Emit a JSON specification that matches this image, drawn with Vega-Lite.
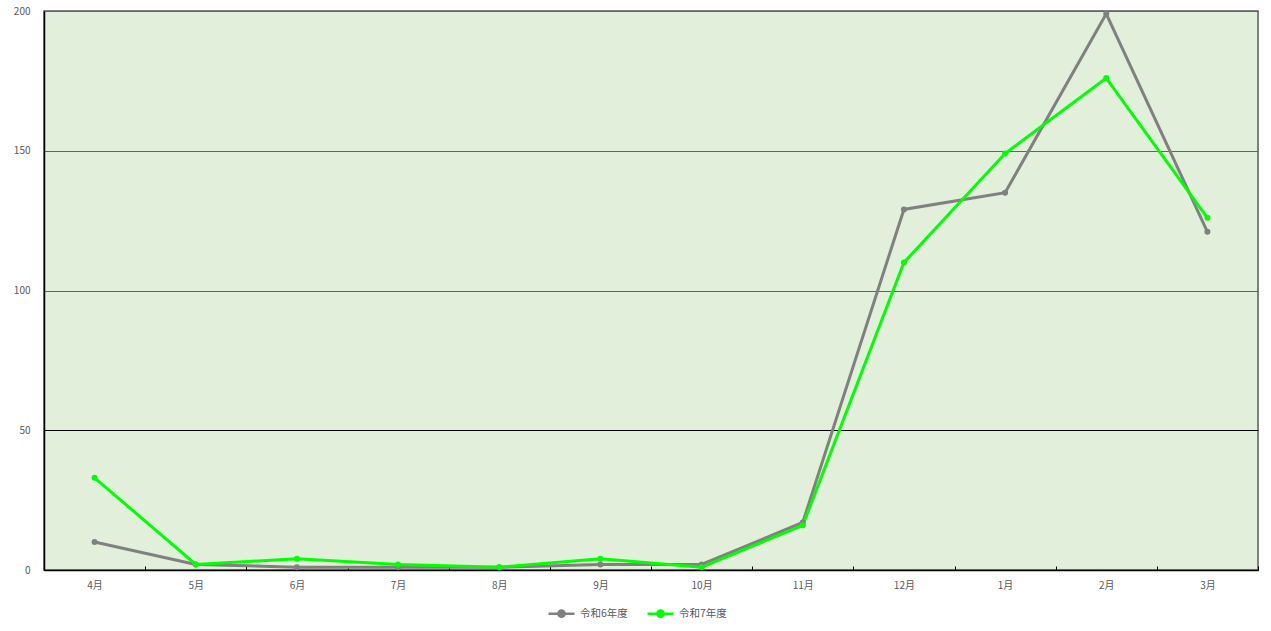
{
  "$schema": "https://vega.github.io/schema/vega-lite/v6.json",
  "width": 1214,
  "height": 559,
  "autosize": {"type": "none"},
  "padding": {"left": 44, "top": 11, "right": 13, "bottom": 61},
  "background": "white",
  "config": {
    "font": "Noto Sans CJK JP",
    "view": {"fill": "#e2efda", "stroke": "#595959", "strokeWidth": 1.5}
  },
  "data": {
    "values": [
      {"month": "4月", "series": "令和6年度", "value": 10},
      {"month": "5月", "series": "令和6年度", "value": 2},
      {"month": "6月", "series": "令和6年度", "value": 1},
      {"month": "7月", "series": "令和6年度", "value": 1},
      {"month": "8月", "series": "令和6年度", "value": 1},
      {"month": "9月", "series": "令和6年度", "value": 2},
      {"month": "10月", "series": "令和6年度", "value": 2},
      {"month": "11月", "series": "令和6年度", "value": 17},
      {"month": "12月", "series": "令和6年度", "value": 129},
      {"month": "1月", "series": "令和6年度", "value": 135},
      {"month": "2月", "series": "令和6年度", "value": 199},
      {"month": "3月", "series": "令和6年度", "value": 121},
      {"month": "4月", "series": "令和7年度", "value": 33},
      {"month": "5月", "series": "令和7年度", "value": 2},
      {"month": "6月", "series": "令和7年度", "value": 4},
      {"month": "7月", "series": "令和7年度", "value": 2},
      {"month": "8月", "series": "令和7年度", "value": 1},
      {"month": "9月", "series": "令和7年度", "value": 4},
      {"month": "10月", "series": "令和7年度", "value": 1},
      {"month": "11月", "series": "令和7年度", "value": 16},
      {"month": "12月", "series": "令和7年度", "value": 110},
      {"month": "1月", "series": "令和7年度", "value": 149},
      {"month": "2月", "series": "令和7年度", "value": 176},
      {"month": "3月", "series": "令和7年度", "value": 126}
    ]
  },
  "mark": {"type": "line", "strokeWidth": 3, "point": {"filled": true, "size": 36}},
  "encoding": {
    "x": {
      "field": "month",
      "type": "ordinal",
      "sort": ["4月","5月","6月","7月","8月","9月","10月","11月","12月","1月","2月","3月"],
      "title": null,
      "scale": {"paddingInner": 0, "paddingOuter": 0},
      "axis": {
        "labelAngle": 0,
        "labelColor": "#595959",
        "labelFontSize": 10,
        "labelPadding": 14,
        "domainColor": "#000000",
        "domainWidth": 1.5,
        "tickColor": "#000000",
        "tickSize": -4,
        "tickBand": "extent",
        "grid": false
      }
    },
    "y": {
      "field": "value",
      "type": "quantitative",
      "title": null,
      "scale": {"domain": [0, 200], "nice": false},
      "axis": {
        "values": [0, 50, 100, 150, 200],
        "labelColor": "#595959",
        "labelFontSize": 10,
        "labelPadding": 14,
        "ticks": false,
        "domainColor": "#000000",
        "domainWidth": 1.5,
        "grid": true,
        "gridColor": {"condition": {"test": "datum.value === 50", "value": "#000000"}, "value": "#5a6a5a"},
        "gridWidth": 1,
        "gridOpacity": 1
      }
    },
    "color": {
      "field": "series",
      "type": "nominal",
      "title": null,
      "scale": {"domain": ["令和6年度", "令和7年度"], "range": ["#808080", "#00ff00"]},
      "legend": {
        "orient": "none",
        "legendX": 503,
        "legendY": 588,
        "direction": "horizontal",
        "labelColor": "#595959",
        "labelFontSize": 10.5,
        "labelOffset": 4,
        "columnPadding": 14,
        "symbolType": "M-1,0H1M-0.24,0a0.24,0.24 0 1,0 0.48,0a0.24,0.24 0 1,0 -0.48,0",
        "symbolSize": 676,
        "symbolStrokeWidth": 2.5,
        "encode": {"symbols": {"update": {"fill": {"scale": "color", "field": "value"}}}}
      }
    }
  }
}
